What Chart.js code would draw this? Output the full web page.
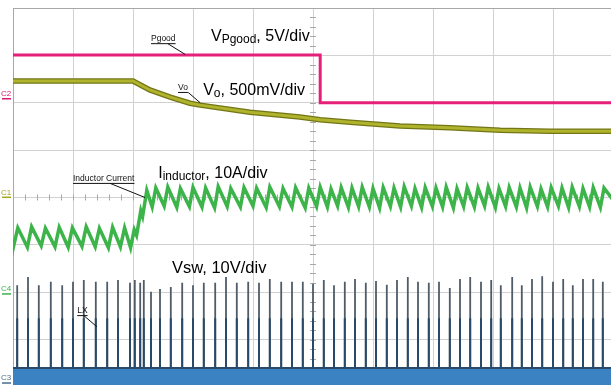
<!DOCTYPE html>
<html>
<head>
<meta charset="utf-8">
<script src="https://cdn.jsdelivr.net/npm/chart.js@4.4.1/dist/chart.umd.min.js"></script>
<style>
  html, body { margin: 0; padding: 0; background: #fff; overflow: hidden; }
  canvas { display: block; }
</style>
</head>
<body>
<canvas id="scope" width="620" height="392"></canvas>
<script>
// all values in screen divisions: time 0..10 div, level 0..8 div (0 = bottom)

// Pgood (5V/div)
const pgoodTimes = [0, 5.12, 5.12, 10];
const pgoodLevels = [7.01, 7.01, 6.0, 6.0];

// Vo (500mV/div)
const voTimes = [0, 2.0, 2.28, 2.62, 2.95, 3.12, 3.95, 4.78, 5.12, 5.62, 6.45, 7.28, 8.12, 8.95, 10];
const voLevels = [6.46, 6.46, 6.27, 6.12, 5.99, 5.95, 5.80, 5.70, 5.64, 5.59, 5.51, 5.47, 5.42, 5.40, 5.40];

// inductor current (10A/div), peaks and valleys of each ripple cycle
const iStart = 3.12;
const prePeakTimes = [0.08, 0.31, 0.54, 0.77, 0.99, 1.22, 1.44, 1.66, 1.86];
const prePeaks = [3.36, 3.38, 3.35, 3.37, 3.36, 3.38, 3.35, 3.37, 3.36];
const preValleys = [2.97, 2.95, 2.98, 2.96, 2.95, 2.97, 2.96, 2.94, 2.96];
const stepTimes = [1.96, 2.02, 2.06, 2.13, 2.16, 2.23];
const stepLevels = [2.94, 3.32, 3.20, 3.72, 3.60, 4.15];
const postPeakTimes = [2.38, 2.58, 2.79, 3.00, 3.21, 3.42, 3.63, 3.85, 4.06, 4.28,
  4.50, 4.71, 4.93, 5.12, 5.30, 5.47, 5.65, 5.82, 6.00, 6.17,
  6.35, 6.52, 6.70, 6.87, 7.05, 7.22, 7.40, 7.57, 7.75, 7.92,
  8.10, 8.27, 8.45, 8.62, 8.80, 8.97, 9.15, 9.32, 9.50, 9.67, 9.85];
const postPeaks = [4.20, 4.22, 4.19, 4.21, 4.20, 4.23, 4.19, 4.21, 4.20, 4.22,
  4.19, 4.21, 4.20, 4.22, 4.18, 4.21, 4.20, 4.22, 4.19, 4.21,
  4.20, 4.23, 4.19, 4.21, 4.20, 4.22, 4.19, 4.21, 4.20, 4.22,
  4.19, 4.21, 4.20, 4.22, 4.18, 4.21, 4.20, 4.22, 4.19, 4.21, 4.20];
const postValleys = [3.80, 3.82, 3.79, 3.81, 3.80, 3.78, 3.81, 3.80, 3.82, 3.79,
  3.81, 3.80, 3.78, 3.81, 3.80, 3.82, 3.79, 3.81, 3.80, 3.78,
  3.81, 3.80, 3.82, 3.79, 3.81, 3.80, 3.78, 3.81, 3.80, 3.82,
  3.79, 3.81, 3.80, 3.78, 3.81, 3.80, 3.82, 3.79, 3.81, 3.80, 3.79];
const iEnd = 3.95;

// LX switch node (10V/div)
const lxTimes = [0.07, 0.25, 0.43, 0.63, 0.82, 1.00, 1.18, 1.38, 1.57, 1.75,
  1.95, 2.03, 2.12, 2.18, 2.30, 2.45, 2.63, 2.82, 3.00, 3.18,
  3.37, 3.55, 3.73, 3.92, 4.10, 4.28, 4.47, 4.65, 4.83, 5.00,
  5.18, 5.35, 5.53, 5.70, 5.88, 6.05, 6.23, 6.40, 6.58, 6.75,
  6.93, 7.10, 7.28, 7.45, 7.62, 7.80, 7.97, 8.13, 8.32, 8.48,
  8.65, 8.82, 9.00, 9.17, 9.33, 9.50, 9.67, 9.83];
const lxPeaks = [2.15, 2.32, 2.15, 2.22, 2.15, 2.22, 2.26, 2.22, 2.22, 2.26,
  2.20, 2.26, 2.20, 2.26, 2.01, 2.07, 2.11, 2.20, 2.15, 2.20,
  2.20, 2.32, 2.20, 2.22, 2.20, 2.28, 2.22, 2.22, 2.22, 2.18,
  2.26, 2.15, 2.22, 2.28, 2.20, 2.24, 2.16, 2.26, 2.32, 2.22,
  2.20, 2.22, 2.09, 2.28, 2.32, 2.22, 2.26, 2.15, 2.32, 2.15,
  2.28, 2.34, 2.22, 2.28, 2.15, 2.28, 2.28, 2.22];
const lxMid = 1.45;
const lxBase = 0.40;

const toPoints = (xs, ys) => xs.map((x, i) => ({ x, y: ys[i] }));

const buildCurrent = () => {
    let pts = [{ x: 0, y: iStart }];
    prePeakTimes.forEach((t, i) => {
        pts.push({ x: Math.max(t - 0.07, 0.01), y: preValleys[i] });
        pts.push({ x: t, y: prePeaks[i] });
    });
    pts = pts.concat(toPoints(stepTimes, stepLevels));
    postPeakTimes.forEach((t, i) => {
        pts.push({ x: t - 0.06, y: postValleys[i] });
        pts.push({ x: t, y: postPeaks[i] });
    });
    pts.push({ x: 10, y: iEnd });
    return pts;
};

const buildSpikes = (tops) => {
    let pts = [{ x: 0, y: lxBase }];
    lxTimes.forEach((t, i) => {
        const top = Array.isArray(tops) ? tops[i] : tops;
        pts.push({ x: t, y: lxBase }, { x: t, y: top }, { x: t, y: lxBase });
    });
    pts.push({ x: 10, y: lxBase });
    return pts;
};

const traceStyle = (color, width, order) => ({
    borderColor: color,
    borderWidth: width,
    pointRadius: 0,
    showLine: true,
    fill: false,
    tension: 0,
    order: order,
});

const font = (size) => `${size}px "Liberation Sans", Arial, sans-serif`;

// text, leaders and channel markers
const annotations = {
    id: "annotations",
    beforeDatasetsDraw(chart) {
        const { ctx } = chart;
        const xs = chart.scales.x, ys = chart.scales.y;
        ctx.save();
        ctx.strokeStyle = "#a8a8a8";
        ctx.lineWidth = 1;
        ctx.beginPath();
        for (let v = 0; v <= 10.001; v += 0.2) {
            const px = Math.round(xs.getPixelForValue(v)) + 0.5;
            const py = ys.getPixelForValue(4);
            ctx.moveTo(px, py - 3);
            ctx.lineTo(px, py + 3);
        }
        for (let v = 0; v <= 8.001; v += 0.2) {
            const py = Math.round(ys.getPixelForValue(v)) + 0.5;
            const px = xs.getPixelForValue(5);
            ctx.moveTo(px - 3, py);
            ctx.lineTo(px + 3, py);
        }
        ctx.stroke();
        ctx.restore();
    },
    afterDatasetsDraw(chart) {
        const { ctx } = chart;
        const xs = chart.scales.x, ys = chart.scales.y;
        const X = (v) => xs.getPixelForValue(v);
        const Y = (v) => ys.getPixelForValue(v);
        ctx.save();
        ctx.fillStyle = "#000";
        ctx.textBaseline = "alphabetic";

        const parts = (x, y, list) => {
            let cx = X(x);
            list.forEach(([txt, size, dy]) => {
                ctx.font = font(size);
                ctx.fillText(txt, cx, Y(y) + dy);
                cx += ctx.measureText(txt).width;
            });
        };
        parts(3.30, 7.30, [["V", 16, 0], ["Pgood", 12, 2], [", 5V/div", 16, 0]]);
        parts(3.17, 6.16, [["V", 16, 0], ["o", 12, 2], [", 500mV/div", 16, 0]]);
        parts(2.42, 4.41, [["I", 16, 0], ["inductor", 12, 2], [", 10A/div", 16, 0]]);
        parts(2.65, 2.41, [["Vsw, 10V/div", 16.5, 0]]);

        const tag = (txt, x, y, lead) => {
            ctx.font = font(8.5);
            ctx.fillStyle = "#111";
            ctx.fillText(txt, X(x), Y(y));
            const w = ctx.measureText(txt).width;
            ctx.strokeStyle = "#111";
            ctx.lineWidth = 1;
            ctx.beginPath();
            ctx.moveTo(X(x), Y(y) + 2.5);
            ctx.lineTo(X(x) + w, Y(y) + 2.5);
            ctx.moveTo(X(lead[0]), Y(y) + 2.5);
            ctx.lineTo(X(lead[1]), Y(lead[2]));
            ctx.stroke();
        };
        tag("Pgood", 2.30, 7.30, [2.58, 2.87, 7.02]);
        tag("Vo", 2.75, 6.27, [2.92, 3.12, 6.0]);
        tag("Inductor Current", 1.0, 4.35, [1.62, 2.20, 4.0]);
        tag("LX", 1.07, 1.56, [1.18, 1.40, 1.27]);

        const marker = (txt, color, y) => {
            ctx.fillStyle = color;
            ctx.font = font(8);
            ctx.fillText(txt, 1, Y(y) - 2);
            ctx.fillRect(2, Y(y), 9, 1.5);
        };
        marker("C2", "#d81b72", 6.10);
        marker("C1", "#a3a820", 4.02);
        marker("C4", "#3cb44a", 1.98);
        marker("C3", "#4a6f8f", 0.10);
        ctx.restore();
    },
};

new Chart(document.getElementById("scope"), {
    type: "scatter",
    data: {
        datasets: [
            Object.assign({ data: toPoints(pgoodTimes, pgoodLevels) }, traceStyle("#e6207a", 3, 1)),
            Object.assign({ data: toPoints(voTimes, voLevels) }, traceStyle("#b0b32c", 3, 2)),
            Object.assign({ data: toPoints(voTimes, voLevels) }, traceStyle("#737616", 5.5, 3)),
            Object.assign({ data: buildCurrent() }, traceStyle("#3cb44a", 3.5, 4)),
            Object.assign({ data: buildSpikes(lxMid) }, traceStyle("#28496a", 2, 5)),
            Object.assign({ data: buildSpikes(lxPeaks) }, traceStyle("#4f5c68", 1.8, 6)),
            Object.assign({ data: toPoints([0, 10], [lxBase, lxBase]) }, traceStyle("#2c5f8e", 1.5, 7), {
                fill: "start",
                backgroundColor: "#3b82c2",
            }),
        ],
    },
    options: {
        responsive: false,
        animation: false,
        devicePixelRatio: 1,
        layout: { padding: { left: 13, top: 8, right: 7, bottom: 5 } },
        plugins: { legend: { display: false }, tooltip: { enabled: false } },
        scales: {
            x: {
                type: "linear",
                min: 0,
                max: 10,
                ticks: { display: false, stepSize: 1 },
                grid: { color: (c) => (c.tick && c.tick.value === 0 ? "#a8a8a8" : "#d2d2d2"), drawTicks: false },
                border: { display: true, color: "#a8a8a8" },
            },
            y: {
                type: "linear",
                min: 0,
                max: 8,
                ticks: { display: false, stepSize: 1 },
                grid: { color: (c) => (c.tick && c.tick.value === 8 ? "#a8a8a8" : "#d2d2d2"), drawTicks: false },
                border: { display: true, color: "#a8a8a8" },
            },
        },
    },
    plugins: [annotations],
});
</script>
</body>
</html>
